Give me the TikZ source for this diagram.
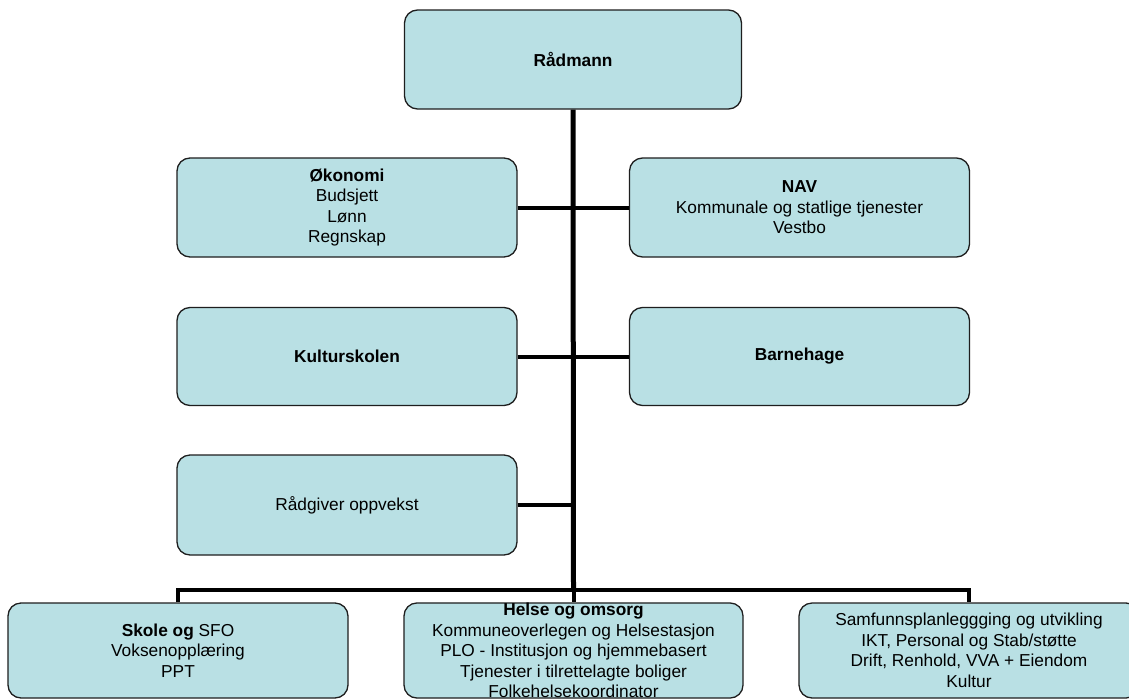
\documentclass[tikz,border=0pt]{standalone}
\usepackage{fontspec}
\setmainfont{Liberation Sans}
\definecolor{boxfill}{RGB}{185,224,228}
\definecolor{boxline}{RGB}{30,30,30}
\tikzset{
  orgbox/.style={draw=boxline, line width=1.3pt, fill=boxfill, rounded corners=13pt,
    minimum width=340pt, minimum height=99pt, align=center, inner sep=0pt,
    font=\fontsize{17.3}{20.6}\selectfont},
  trunk/.style={line width=5pt, black},
  branch/.style={line width=4pt, black},
}
\begin{document}
\begin{tikzpicture}[x=1pt,y=-1pt]
\useasboundingbox (0,0) rectangle (1129,699);
\clip (0,0) rectangle (1129,699);
\fill[white] (0,0) rectangle (1129,699);
\coordinate (tb) at (573.5,590);
\node[orgbox, minimum width=337pt] (rad) at (573,59.5) {\bfseries Rådmann};
\node[orgbox] (oko) at (347,207.5) {\bfseries Økonomi\\Budsjett\\Lønn\\Regnskap};
\node[orgbox] (nav) at (799.5,207.5) {\bfseries NAV\\Kommunale og statlige tjenester\\Vestbo};
\node[orgbox, minimum height=98pt] (kul) at (347,356.5) {\bfseries Kulturskolen};
\node[orgbox, minimum height=98pt] (bar) at (799.5,356.5) {\bfseries Barnehage};
\node[orgbox, minimum height=100pt] (rg) at (347,505) {Rådgiver oppvekst};
\node[orgbox, minimum height=95pt] (sko) at (178,650.5) {{\bfseries Skole og} SFO\\Voksenopplæring\\PPT};
\node[orgbox, minimum width=339pt, minimum height=95pt] (hel) at (573.5,650.5)
  {\bfseries Helse og omsorg\\Kommuneoverlegen og Helsestasjon\\PLO - Institusjon og hjemmebasert\\Tjenester i tilrettelagte boliger\\Folkehelsekoordinator};
\node[orgbox, minimum height=95pt] (sam) at (969,650.5) {Samfunnsplanleggging og utvikling\\IKT, Personal og Stab/støtte\\Drift, Renhold, VVA + Eiendom\\Kultur};
\draw[branch] (oko.east) -- (nav.west);
\draw[branch] (kul.east) -- (bar.west);
\draw[branch] (rg.east) -- (rg.east -| tb);
\draw[branch] (sko.north) -- (sko.north |- tb) -- (sam.north |- tb) -- (sam.north);
\draw[branch] (tb) -- (hel.north);
\draw[trunk] (rad.south) -- (tb);
\end{tikzpicture}
\end{document}
